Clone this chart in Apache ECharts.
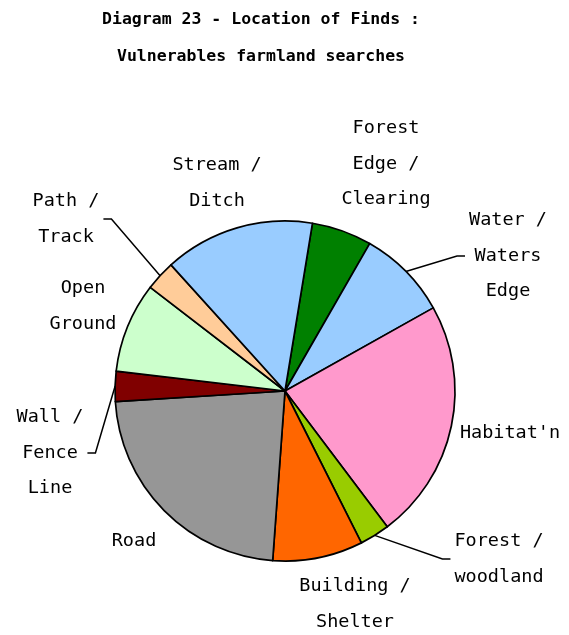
<!DOCTYPE html>
<html>
<head>
<meta charset="utf-8">
<script src="https://cdn.jsdelivr.net/npm/echarts@6/dist/echarts.min.js"></script>
<style>
html,body{margin:0;padding:0;background:#fff;}
#chart{width:569px;height:635px;}
</style>
</head>
<body>
<div id="chart"></div>
<script>
// ---- data ----
const titleLines = ["Diagram 23 - Location of Finds :", "Vulnerables farmland searches"];
const categories = [
  "Forest\nEdge /\nClearing",
  "Water /\nWaters\nEdge",
  "Habitat'n",
  "Forest /\nwoodland",
  "Building /\nShelter",
  "Road",
  "Wall /\nFence\nLine",
  "Open\nGround",
  "Path /\nTrack",
  "Stream /\nDitch"
];
const values = [2, 3, 8, 1, 3, 8, 1, 3, 1, 5];

// ---- styles / layout ----
const colors = ["#008000", "#99CCFF", "#FF99CC", "#99CC00", "#FF6600", "#969696", "#800000", "#CCFFCC", "#FFCC99", "#99CCFF"];
const labelPos = [[386,164],[508,256],[510,433],[499,559],[355,604],[134,541],[50,453],[83,306],[66,219],[217,183]];
const leaderSide = [null, 'left', null, 'left', null, null, 'right', null, 'right', null];
const FONT = "'DejaVu Sans Mono', 'Liberation Mono', monospace";

const chart = echarts.init(document.getElementById('chart'));
const data = categories.map((c, i) => ({
  name: c,
  value: values[i],
  itemStyle: { color: colors[i] },
  labelLine: { show: !!leaderSide[i] }
}));

chart.setOption({
  animation: false,
  backgroundColor: '#ffffff',
  title: {
    text: titleLines.join('\n'),
    left: 256,
    top: -4,
    textAlign: 'center',
    textStyle: {
      fontFamily: FONT, fontSize: 16.5, fontWeight: 'bold', color: '#000', lineHeight: 37
    }
  },
  series: [{
    type: 'pie',
    center: [285, 391],
    radius: 170,
    startAngle: 80.7,
    clockwise: true,
    avoidLabelOverlap: false,
    data: data,
    itemStyle: { borderColor: '#000', borderWidth: 1.7 },
    label: {
      show: true,
      position: 'outside',
      formatter: '{b}',
      fontFamily: FONT,
      fontSize: 18.5,
      lineHeight: 35.5,
      color: '#000',
      align: 'center'
    },
    labelLine: {
      lineStyle: { color: '#000', width: 1.5 },
      length: 10, length2: 10
    },
    labelLayout: function (params) {
      const i = params.dataIndex;
      const p = labelPos[i];
      const res = { x: p[0], y: p[1], align: 'center', verticalAlign: 'middle' };
      const side = leaderSide[i];
      if (side && params.labelLinePoints) {
        const a = params.labelLinePoints[0];
        const w = params.labelRect.width;
        let ex, bx;
        if (side === 'right') { ex = p[0] + w / 2 + 4; bx = ex + 8; }
        else { ex = p[0] - w / 2 - 4; bx = ex - 8; }
        res.labelLinePoints = [[a[0], a[1]], [bx, p[1]], [ex, p[1]]];
      }
      return res;
    }
  }]
});
</script>
</body>
</html>
